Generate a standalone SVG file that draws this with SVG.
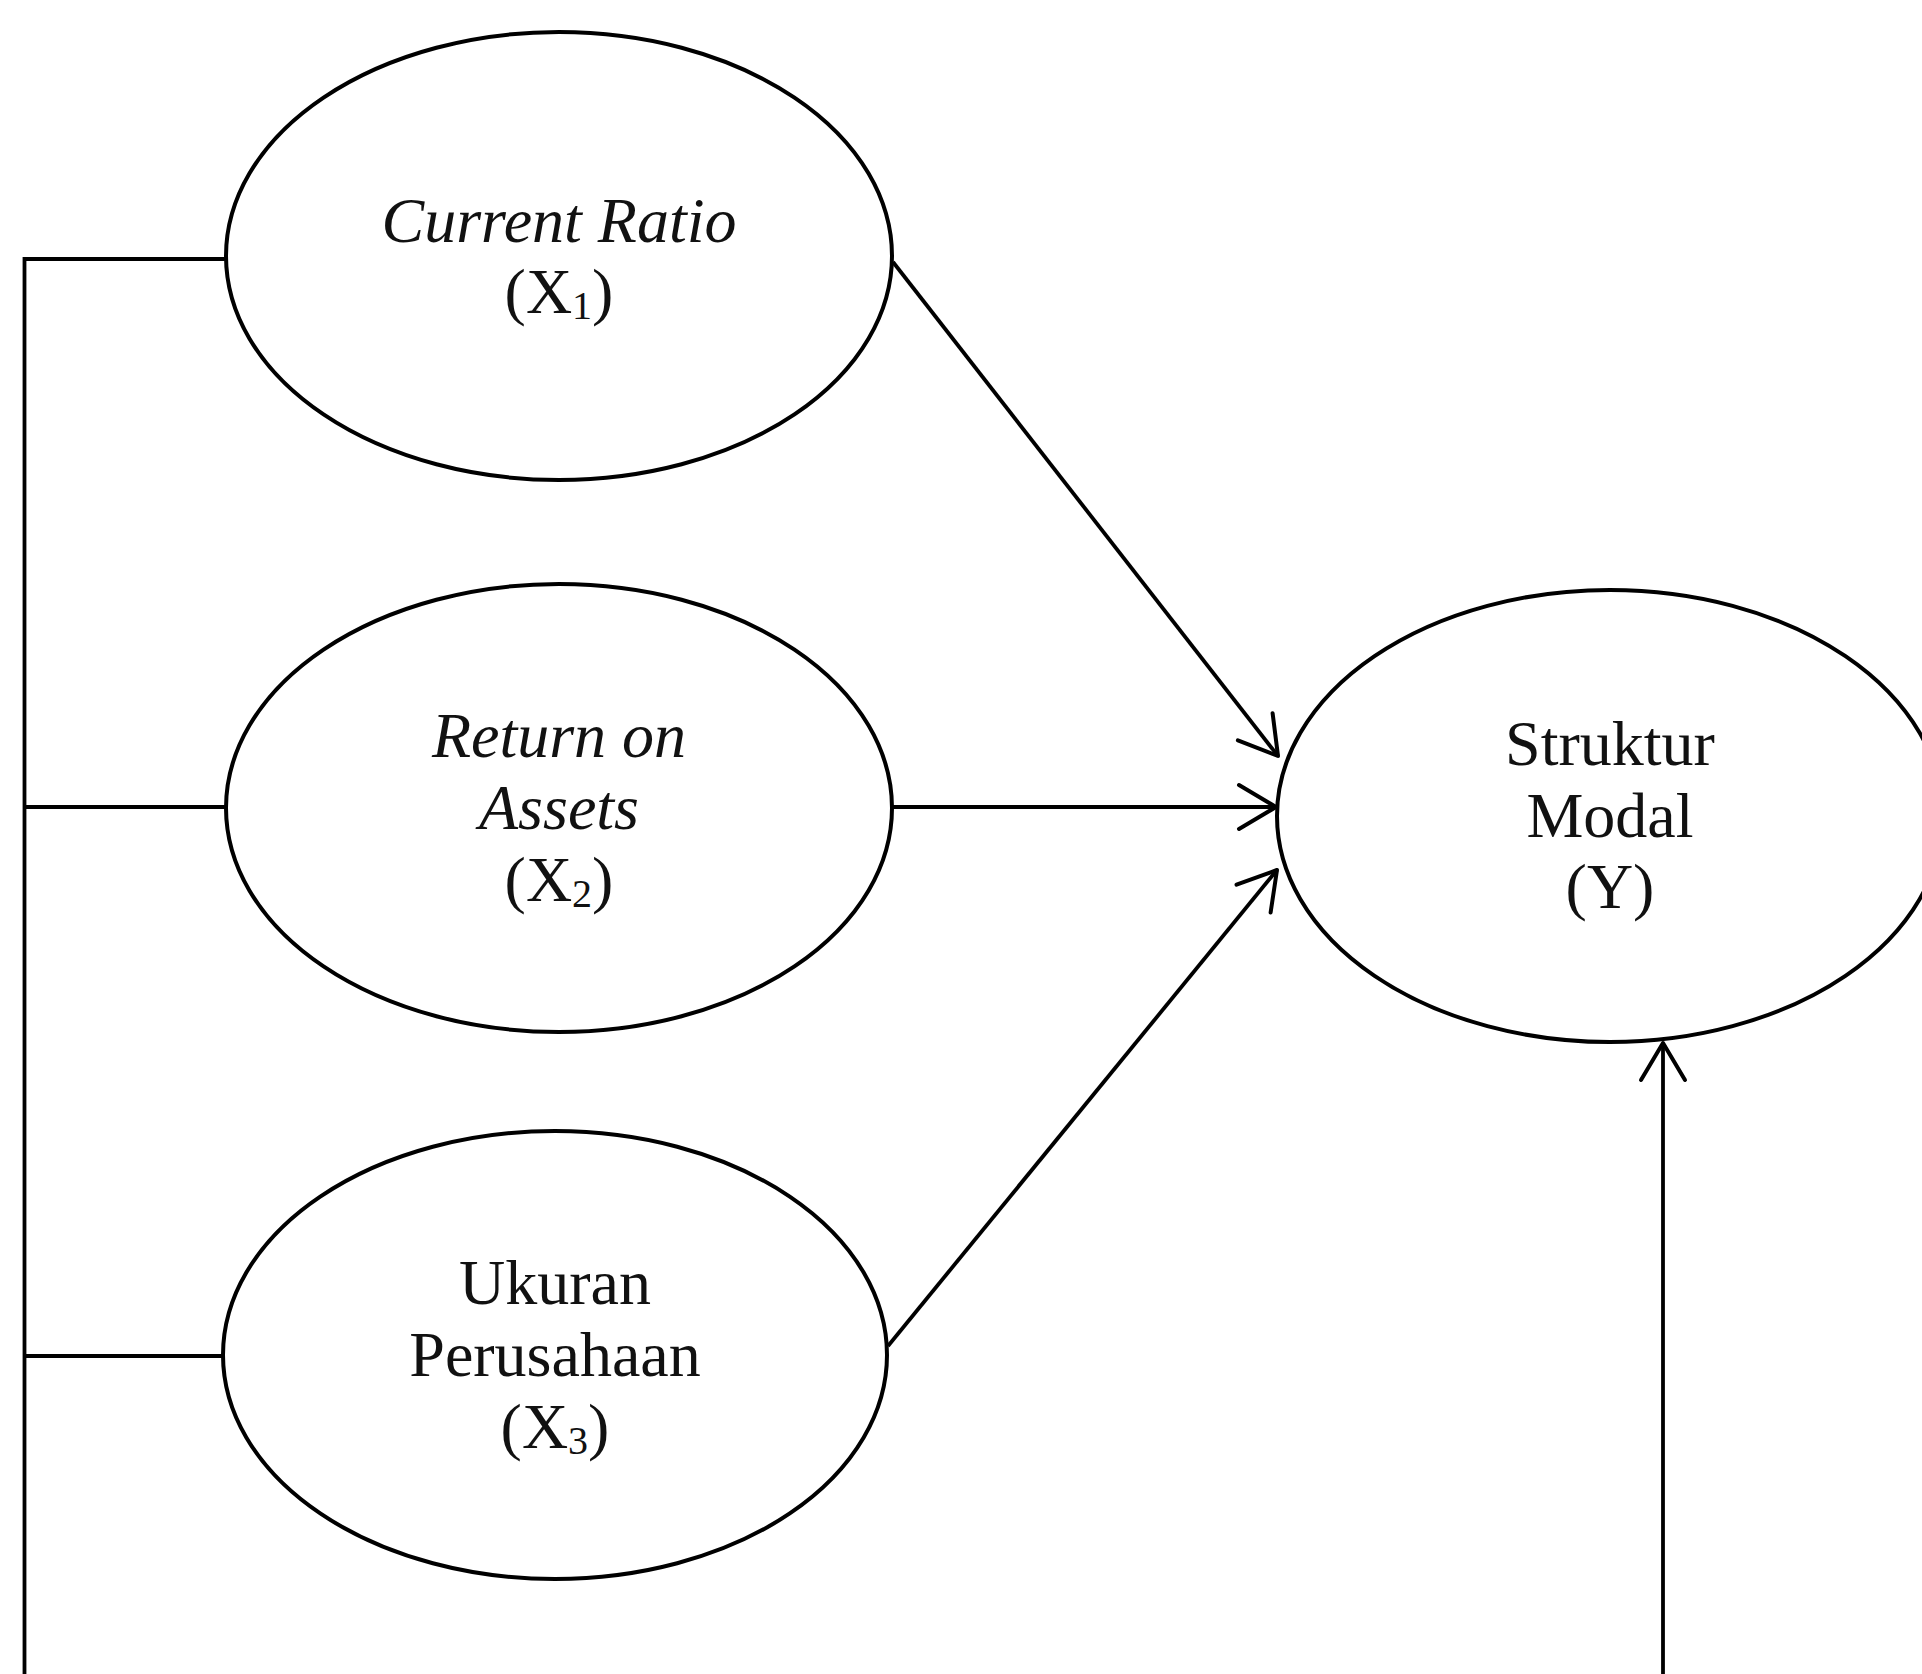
<svg xmlns="http://www.w3.org/2000/svg" width="1922" height="1674" viewBox="0 0 1922 1674">
<style>
.node ellipse{fill:#fff;stroke:#000;stroke-width:4}
.lbl{font-family:"Liberation Serif","Times New Roman",serif;font-size:64px;fill:#111;text-anchor:middle}
.it{font-style:italic}
.sub{font-size:40px}
#connectors line,#connectors polyline{stroke:#000;stroke-width:3.8;fill:none}
</style>
<defs>
<marker id="arr" markerUnits="userSpaceOnUse" markerWidth="60" markerHeight="60" refX="0" refY="0" viewBox="-45 -30 50 60" orient="auto" overflow="visible">
<path d="M-37,-22 L0,0 L-37,22" fill="none" stroke="#000" stroke-width="4" stroke-linecap="round" stroke-linejoin="round"/>
</marker>
</defs>
<rect width="1922" height="1674" fill="#fff"/>
<g id="connectors">
<polyline points="226,259 24.5,259 24.5,1674"/>
<line x1="24.5" y1="807" x2="226" y2="807"/>
<line x1="24.5" y1="1356" x2="222" y2="1356"/>
<line x1="893" y1="262" x2="1278" y2="756" marker-end="url(#arr)"/>
<line x1="892" y1="807" x2="1276" y2="807" marker-end="url(#arr)"/>
<line x1="888" y1="1346" x2="1277" y2="870" marker-end="url(#arr)"/>
<line x1="1663" y1="1674" x2="1663" y2="1043" marker-end="url(#arr)"/>
</g>
<g id="node-x1" class="node">
<ellipse cx="559" cy="256" rx="333" ry="224"/>
<text class="lbl it" x="559" y="242">Current Ratio</text>
<text class="lbl" x="559" y="313">(X<tspan class="sub" dy="6">1</tspan><tspan dy="-6">)</tspan></text>
</g>
<g id="node-x2" class="node">
<ellipse cx="559" cy="808" rx="333" ry="224"/>
<text class="lbl it" x="559" y="757">Return on</text>
<text class="lbl it" x="559" y="829">Assets</text>
<text class="lbl" x="559" y="901">(X<tspan class="sub" dy="6">2</tspan><tspan dy="-6">)</tspan></text>
</g>
<g id="node-x3" class="node">
<ellipse cx="555" cy="1355" rx="332" ry="224"/>
<text class="lbl" x="555" y="1304">Ukuran</text>
<text class="lbl" x="555" y="1376">Perusahaan</text>
<text class="lbl" x="555" y="1448">(X<tspan class="sub" dy="6">3</tspan><tspan dy="-6">)</tspan></text>
</g>
<g id="node-y" class="node">
<ellipse cx="1610" cy="816" rx="333" ry="226"/>
<text class="lbl" x="1610" y="765">Struktur</text>
<text class="lbl" x="1610" y="837">Modal</text>
<text class="lbl" x="1610" y="908">(Y)</text>
</g>
</svg>
